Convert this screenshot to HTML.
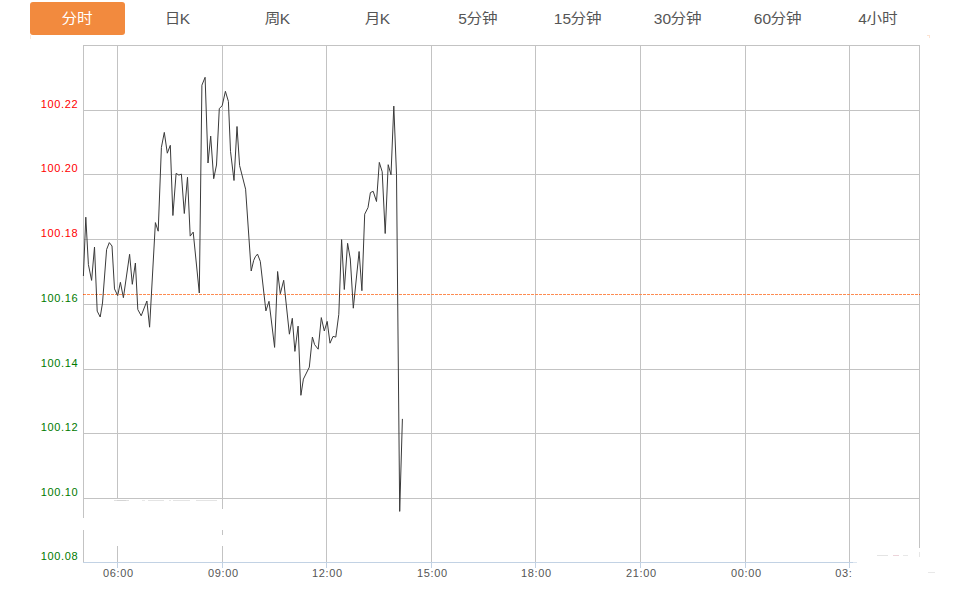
<!DOCTYPE html>
<html><head><meta charset="utf-8"><style>
html,body{margin:0;padding:0;background:#fff;width:953px;height:592px;overflow:hidden}
.tab{position:absolute;top:2px;width:95px;height:33px;line-height:33px;text-align:center;
font-family:"Liberation Sans","Noto Sans CJK SC",sans-serif;font-size:15px;color:#555;border-radius:3px}
.tab.on{background:#f28a3e;color:#fff}
.tab .c{display:inline-block;transform:scale(1.04,0.9)}
.tab .l{font-size:15.5px}
svg{position:absolute;left:0;top:0}
svg text{font-family:"Liberation Sans",sans-serif;font-size:11px;letter-spacing:0.65px}
</style></head><body>
<div class="tab on" style="left:30px"><span class="c">分时</span></div><div class="tab" style="left:130px"><span class="c">日</span><span class="l">K</span></div><div class="tab" style="left:230px"><span class="c">周</span><span class="l">K</span></div><div class="tab" style="left:330px"><span class="c">月</span><span class="l">K</span></div><div class="tab" style="left:430px"><span class="l">5</span><span class="c">分钟</span></div><div class="tab" style="left:530px"><span class="l">15</span><span class="c">分钟</span></div><div class="tab" style="left:630px"><span class="l">30</span><span class="c">分钟</span></div><div class="tab" style="left:730px"><span class="l">60</span><span class="c">分钟</span></div><div class="tab" style="left:830px"><span class="l">4</span><span class="c">小时</span></div>
<svg width="953" height="592" viewBox="0 0 953 592">
<g shape-rendering="crispEdges"><line x1="83" y1="45.5" x2="920" y2="45.5" stroke="#c3c3c3"/><line x1="83.5" y1="45" x2="83.5" y2="562" stroke="#c3c3c3"/><line x1="919.5" y1="45" x2="919.5" y2="562" stroke="#c3c3c3"/><line x1="83" y1="110.5" x2="920" y2="110.5" stroke="#c3c3c3"/><line x1="83" y1="174.5" x2="920" y2="174.5" stroke="#c3c3c3"/><line x1="83" y1="239.5" x2="920" y2="239.5" stroke="#c3c3c3"/><line x1="83" y1="304.5" x2="920" y2="304.5" stroke="#c3c3c3"/><line x1="83" y1="369.5" x2="920" y2="369.5" stroke="#c3c3c3"/><line x1="83" y1="433.5" x2="920" y2="433.5" stroke="#c3c3c3"/><line x1="83" y1="498.5" x2="920" y2="498.5" stroke="#c3c3c3"/><line x1="117.5" y1="45" x2="117.5" y2="562" stroke="#c3c3c3"/><line x1="222.5" y1="45" x2="222.5" y2="562" stroke="#c3c3c3"/><line x1="326.5" y1="45" x2="326.5" y2="562" stroke="#c3c3c3"/><line x1="431.5" y1="45" x2="431.5" y2="562" stroke="#c3c3c3"/><line x1="535.5" y1="45" x2="535.5" y2="562" stroke="#c3c3c3"/><line x1="640.5" y1="45" x2="640.5" y2="562" stroke="#c3c3c3"/><line x1="745.5" y1="45" x2="745.5" y2="562" stroke="#c3c3c3"/><line x1="849.5" y1="45" x2="849.5" y2="562" stroke="#c3c3c3"/><line x1="83" y1="562.5" x2="920" y2="562.5" stroke="#c2d2e4"/><line x1="117.5" y1="563" x2="117.5" y2="568" stroke="#c2d2e4"/><line x1="222.5" y1="563" x2="222.5" y2="568" stroke="#c2d2e4"/><line x1="326.5" y1="563" x2="326.5" y2="568" stroke="#c2d2e4"/><line x1="431.5" y1="563" x2="431.5" y2="568" stroke="#c2d2e4"/><line x1="535.5" y1="563" x2="535.5" y2="568" stroke="#c2d2e4"/><line x1="640.5" y1="563" x2="640.5" y2="568" stroke="#c2d2e4"/><line x1="745.5" y1="563" x2="745.5" y2="568" stroke="#c2d2e4"/><line x1="849.5" y1="563" x2="849.5" y2="568" stroke="#c2d2e4"/></g>
<g fill="#fff" shape-rendering="crispEdges">
<rect x="83" y="518" width="1" height="12"/>
<rect x="117" y="499" width="1" height="47"/>
<rect x="222" y="509" width="1" height="21"/>
<rect x="222" y="535" width="1" height="11"/>
<rect x="857" y="548" width="96" height="44"/>
<rect x="852" y="566" width="10" height="26"/>
<rect x="919" y="552" width="1" height="10"/>
</g>
<g shape-rendering="crispEdges">
<rect x="919" y="552" width="1" height="5" fill="#e6e6e6"/>
<rect x="853" y="562" width="4" height="1" fill="#dde6f0"/>
<rect x="114" y="500" width="15" height="1" fill="#e0e0e0"/>
<rect x="117" y="500" width="9" height="1" fill="#d4d4d4"/>
<rect x="142" y="500" width="3" height="1" fill="#e8e8e8"/>
<rect x="148" y="500" width="16" height="1" fill="#e4e4e4"/>
<rect x="169" y="500" width="2" height="1" fill="#e8e8e8"/>
<rect x="173" y="500" width="17" height="1" fill="#e4e4e4"/>
<rect x="196" y="500" width="21" height="1" fill="#e4e4e4"/>
<rect x="877" y="555" width="11" height="1" fill="#e4e4e4"/>
<rect x="893" y="555" width="6" height="1" fill="#ecd4da"/>
<rect x="903" y="555" width="5" height="1" fill="#e8e8e8"/>
<rect x="928" y="572" width="7" height="1" fill="#e8e8e8"/>
<rect x="927" y="35" width="3" height="1" fill="#fde3d2"/>
<rect x="929" y="35" width="1" height="3" fill="#fde3d2"/>
<rect x="30" y="35" width="1" height="4" fill="#fde9dc"/>

</g>
<line x1="83" y1="294.5" x2="920" y2="294.5" stroke="#fd8c52" stroke-dasharray="3,1"/>
<polyline points="83.4,276.0 85.8,217.2 88.4,264.6 91.6,280.4 94.5,247.0 97.2,311.1 100.2,317.0 102.5,303.0 106.6,249.5 109.3,242.6 112.0,246.0 114.5,288.9 117.7,295.6 120.4,282.3 123.4,297.7 129.6,254.3 132.3,284.3 135.4,263.0 137.8,309.5 141.2,315.8 146.9,301.0 149.6,327.2 155.4,222.6 158.2,231.2 161.4,147.4 164.3,132.4 167.3,153.2 170.3,145.3 172.9,215.5 176.1,173.4 178.9,175.1 181.4,174.1 184.3,213.5 187.5,177.2 190.2,236.1 193.2,232.1 199.3,293.0 201.9,85.2 205.1,77.3 208.0,163.0 210.7,136.1 213.7,178.7 216.5,165.0 219.3,108.5 222.2,105.7 225.4,91.3 228.4,101.4 230.5,151.3 234.0,180.5 237.0,126.5 239.6,165.5 245.6,189.2 251.2,271.0 253.7,260.4 255.3,256.8 257.5,254.1 260.3,261.4 265.9,310.9 269.0,301.3 274.6,347.4 277.6,271.5 280.3,293.7 283.7,280.3 289.4,334.2 292.3,318.3 294.9,351.4 298.1,326.1 300.9,395.3 303.4,379.1 309.3,367.2 312.4,337.0 314.6,344.6 318.2,349.2 321.3,317.6 324.3,331.0 327.2,321.4 330.0,343.2 333.0,336.4 335.8,337.1 338.8,314.3 341.6,239.6 344.3,289.5 347.6,243.3 350.3,259.0 353.3,308.2 359.1,251.5 361.9,290.7 364.7,214.2 368.0,207.6 370.4,192.6 373.2,191.3 376.5,201.5 379.3,162.4 382.2,171.8 385.2,233.5 388.2,164.7 391.0,174.8 393.8,106.1 396.5,174.3 399.7,511.4 402.4,418.9" fill="none" stroke="#3a3a3a" stroke-width="1" stroke-linejoin="miter"/>
<g shape-rendering="crispEdges"><rect x="83" y="294" width="1" height="1" fill="#ff5a10"/><rect x="919" y="294" width="1" height="1" fill="#ff5a10"/></g>
<text x="78.3" y="108" fill="#f00" text-anchor="end">100.22</text><text x="78.3" y="172" fill="#f00" text-anchor="end">100.20</text><text x="78.3" y="237" fill="#f00" text-anchor="end">100.18</text><text x="78.3" y="302" fill="#007a00" text-anchor="end">100.16</text><text x="78.3" y="367" fill="#007a00" text-anchor="end">100.14</text><text x="78.3" y="431" fill="#007a00" text-anchor="end">100.12</text><text x="78.3" y="496" fill="#007a00" text-anchor="end">100.10</text><text x="78.3" y="560" fill="#007a00" text-anchor="end">100.08</text><text x="118.4" y="577" fill="#555" text-anchor="middle">06:00</text><text x="223.4" y="577" fill="#555" text-anchor="middle">09:00</text><text x="327.4" y="577" fill="#555" text-anchor="middle">12:00</text><text x="432.4" y="577" fill="#555" text-anchor="middle">15:00</text><text x="536.4" y="577" fill="#555" text-anchor="middle">18:00</text><text x="641.4" y="577" fill="#555" text-anchor="middle">21:00</text><text x="746.4" y="577" fill="#555" text-anchor="middle">00:00</text><text x="835.2" y="577" fill="#555">03:</text>
</svg>
</body></html>
